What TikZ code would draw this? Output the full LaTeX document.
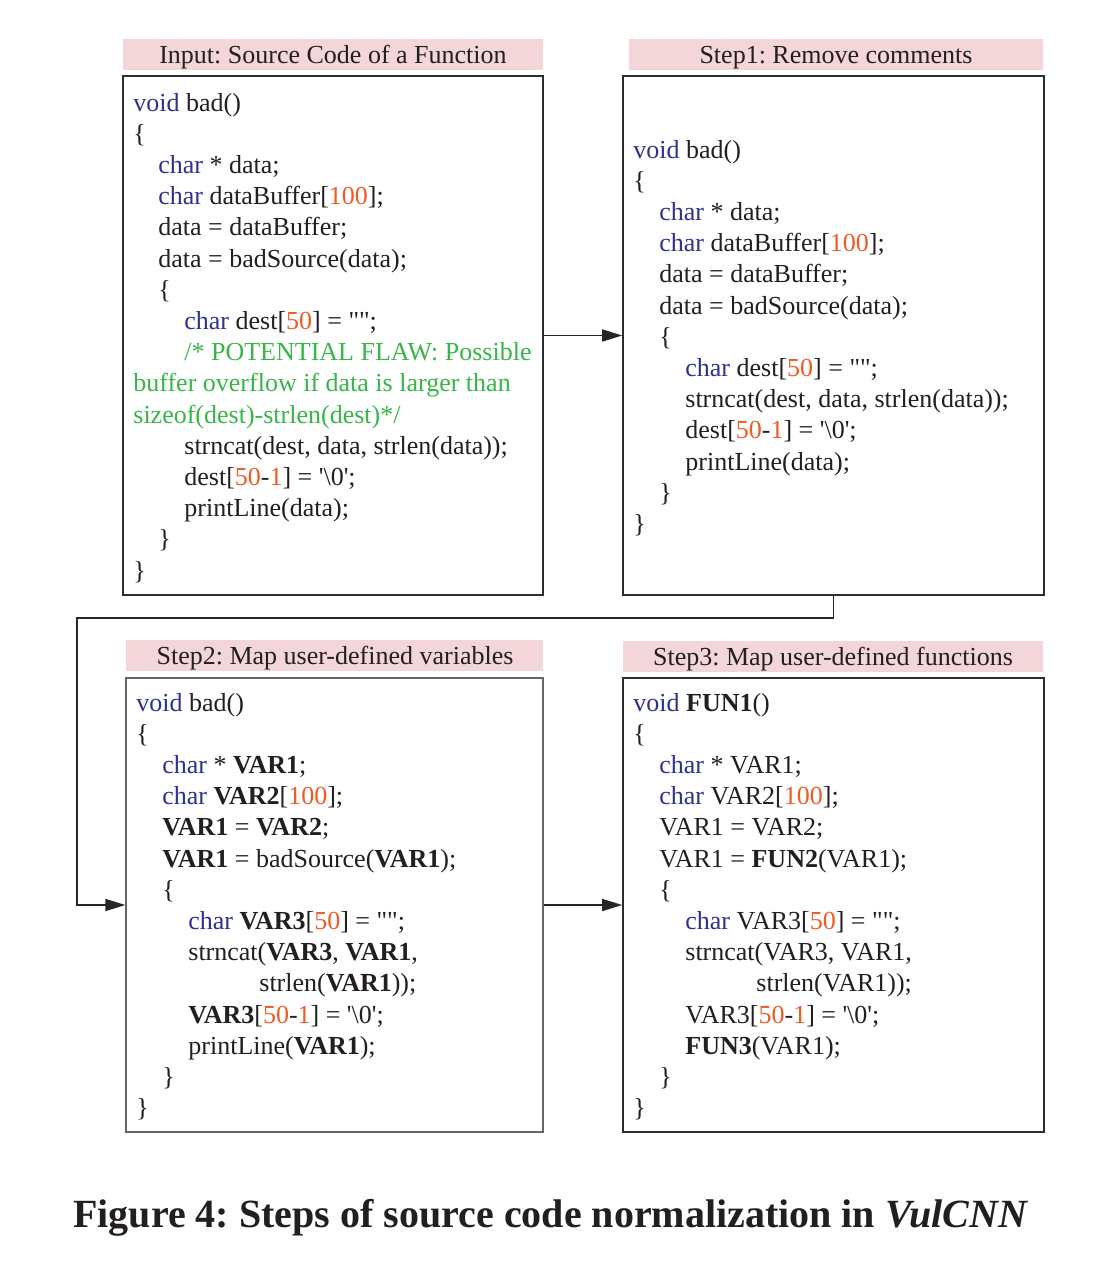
\documentclass[tikz,border=0pt]{standalone}
\usepackage{fontspec}
\setmainfont{Liberation Serif}
\newfontfamily\codefont{Liberation Serif}[Ligatures=TeXOff]
\usetikzlibrary{arrows.meta,fit}
\definecolor{kwblue}{RGB}{46,49,146}
\definecolor{numred}{RGB}{241,90,36}
\definecolor{cmtgreen}{RGB}{57,181,74}
\definecolor{hdrpink}{RGB}{242,214,217}
\definecolor{textcol}{RGB}{35,31,32}
\definecolor{boxline}{RGB}{45,45,45}
\newcommand\kw[1]{\textcolor{kwblue}{#1}}
\newcommand\nm[1]{\textcolor{numred}{#1}}
\newcommand\cm[1]{\textcolor{cmtgreen}{#1}}
\newcommand\cl[4]{\node[code] (#1) at (#2,#3) {#4};}
\frenchspacing
\tikzset{
  code/.style={anchor=base west, inner sep=0pt, font=\codefont\fontsize{13}{15}\selectfont, text=textcol},
  hdr/.style={fill=hdrpink, draw=none, inner sep=0pt},
  hdrtext/.style={anchor=base, inner sep=0pt, font=\codefont\fontsize{13}{15}\selectfont, text=textcol},
  codebox/.style={draw=boxline, line width=0.8pt, inner sep=0pt},
  arr/.style={draw=black!85, line width=0.75pt, -{Triangle[length=10pt,width=6pt]}}
}
\begin{document}
\begin{tikzpicture}[x=0.5pt,y=-0.5pt]
\useasboundingbox[fill=white] (0,0) rectangle (1100,1264);

% headers
\node[hdr, fit={(123,39) (543,70)}] (inh) {};
\node[hdr, fit={(629,39) (1043,70)}] (s1h) {};
\node[hdr, fit={(126,640) (543,671)}] (s2h) {};
\node[hdr, fit={(623,641) (1043,672)}] (s3h) {};
\node[hdrtext] (inht) at (333,63) {Input: Source Code of a Function};
\node[hdrtext] (s1ht) at (836,63) {Step1: Remove comments};
\node[hdrtext] (s2ht) at (335,664) {Step2: Map user-defined variables};
\node[hdrtext] (s3ht) at (833,665) {Step3: Map user-defined functions};

% boxes
\node[codebox, fit={(123,76) (543,595)}] (in) {};
\node[codebox, fit={(623,76) (1044,595)}] (s1) {};
\node[codebox, draw=black!60, line width=0.6pt, fit={(126,678) (543,1132)}] (s2) {};
\node[codebox, fit={(623,678) (1044,1132)}] (s3) {};

% input code
\cl{i1}{133}{111}{\kw{void} bad()}
\cl{i2}{133}{142.2}{\{}
\cl{i3}{158}{173.4}{\kw{char} * data;}
\cl{i4}{158}{204.6}{\kw{char} dataBuffer[\nm{100}];}
\cl{i5}{158}{235.8}{data = dataBuffer;}
\cl{i6}{158}{267}{data = badSource(data);}
\cl{i7}{158}{298.2}{\{}
\cl{i8}{184}{329.4}{\kw{char} dest[\nm{50}] = "";}
\cl{i9}{184}{360.6}{\cm{/* POTENTIAL FLAW: Possible}}
\cl{i10}{133}{391.8}{\cm{buffer overflow if data is larger than}}
\cl{i11}{133}{423}{\cm{sizeof(dest)-strlen(dest)*/}}
\cl{i12}{184}{454.2}{strncat(dest, data, strlen(data));}
\cl{i13}{184}{485.4}{dest[\nm{50}-\nm{1}] = '\textbackslash0';}
\cl{i14}{184}{516.6}{printLine(data);}
\cl{i15}{158}{547.8}{\}}
\cl{i16}{133}{579}{\}}

% step1 code
\cl{a1}{633}{158}{\kw{void} bad()}
\cl{a2}{633}{189.2}{\{}
\cl{a3}{659}{220.4}{\kw{char} * data;}
\cl{a4}{659}{251.6}{\kw{char} dataBuffer[\nm{100}];}
\cl{a5}{659}{282.8}{data = dataBuffer;}
\cl{a6}{659}{314}{data = badSource(data);}
\cl{a7}{659}{345.2}{\{}
\cl{a8}{685}{376.4}{\kw{char} dest[\nm{50}] = "";}
\cl{a9}{685}{407.6}{strncat(dest, data, strlen(data));}
\cl{a10}{685}{438.8}{dest[\nm{50}-\nm{1}] = '\textbackslash0';}
\cl{a11}{685}{470}{printLine(data);}
\cl{a12}{659}{501.2}{\}}
\cl{a13}{633}{532.4}{\}}

% step2 code
\cl{b1}{136}{711}{\kw{void} bad()}
\cl{b2}{136}{742.2}{\{}
\cl{b3}{162}{773.4}{\kw{char} * \textbf{VAR1};}
\cl{b4}{162}{804.6}{\kw{char} \textbf{VAR2}[\nm{100}];}
\cl{b5}{162}{835.8}{\textbf{VAR1} = \textbf{VAR2};}
\cl{b6}{162}{867}{\textbf{VAR1} = badSource(\textbf{VAR1});}
\cl{b7}{162}{898.2}{\{}
\cl{b8}{188}{929.4}{\kw{char} \textbf{VAR3}[\nm{50}] = "";}
\cl{b9}{188}{960.6}{strncat(\textbf{VAR3}, \textbf{VAR1},}
\cl{b10}{259}{991.8}{strlen(\textbf{VAR1}));}
\cl{b11}{188}{1023}{\textbf{VAR3}[\nm{50}-\nm{1}] = '\textbackslash0';}
\cl{b12}{188}{1054.2}{printLine(\textbf{VAR1});}
\cl{b13}{162}{1085.4}{\}}
\cl{b14}{136}{1116.6}{\}}

% step3 code
\cl{c1}{633}{711}{\kw{void} \textbf{FUN1}()}
\cl{c2}{633}{742.2}{\{}
\cl{c3}{659}{773.4}{\kw{char} * VAR1;}
\cl{c4}{659}{804.6}{\kw{char} VAR2[\nm{100}];}
\cl{c5}{659}{835.8}{VAR1 = VAR2;}
\cl{c6}{659}{867}{VAR1 = \textbf{FUN2}(VAR1);}
\cl{c7}{659}{898.2}{\{}
\cl{c8}{685}{929.4}{\kw{char} VAR3[\nm{50}] = "";}
\cl{c9}{685}{960.6}{strncat(VAR3, VAR1,}
\cl{c10}{756}{991.8}{strlen(VAR1));}
\cl{c11}{685}{1023}{VAR3[\nm{50}-\nm{1}] = '\textbackslash0';}
\cl{c12}{685}{1054.2}{\textbf{FUN3}(VAR1);}
\cl{c13}{659}{1085.4}{\}}
\cl{c14}{633}{1116.6}{\}}

% connectors
\coordinate (turn) at (77,618);
\draw[arr] (in.east) -- (s1.west);
\draw[arr] (s1.south) |- (turn) |- (s2.west);
\draw[arr] (s2.east) -- (s3.west);

% caption
\node[anchor=base, inner sep=0pt, font=\bfseries\fontsize{20}{24}\selectfont, text=textcol] (cap) at (551,1227) {Figure 4: Steps of source code normalization in \textit{VulCNN}};
\end{tikzpicture}
\end{document}
